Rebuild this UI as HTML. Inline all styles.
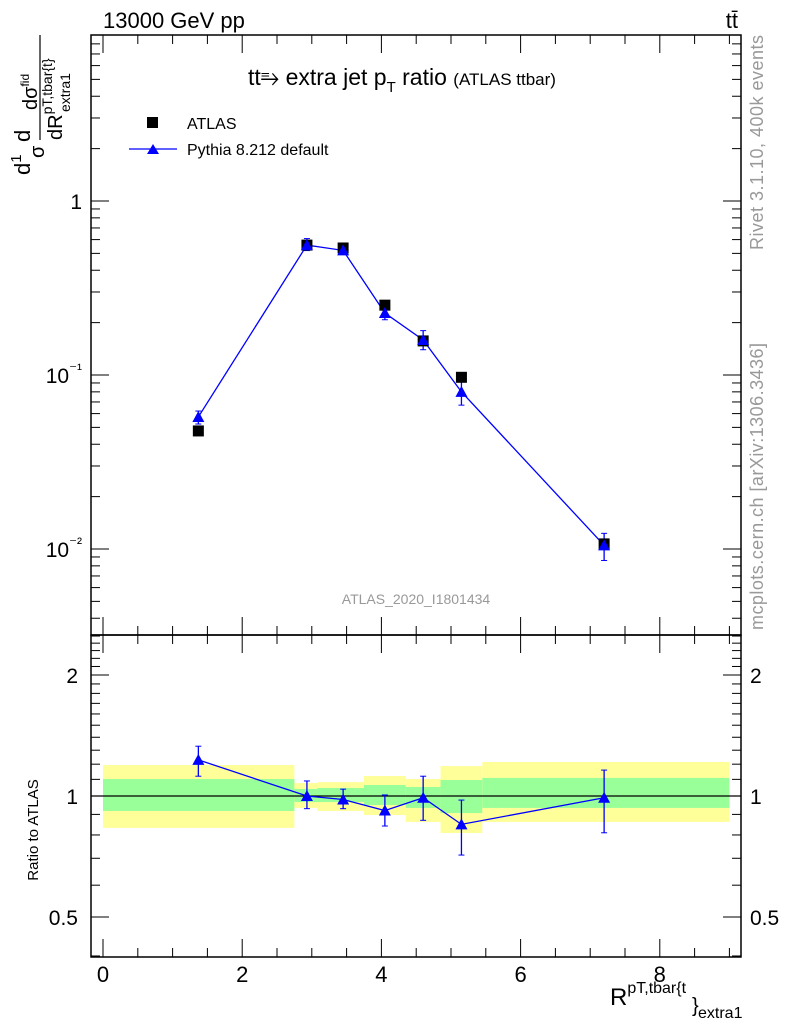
<!DOCTYPE html>
<html><head><meta charset="utf-8"><style>
body{margin:0;background:#fff;}
svg{font-family:"Liberation Sans",sans-serif;display:block;}
</style></head><body>
<svg id="chart" width="786" height="1024" viewBox="0 0 786 1024" xmlns="http://www.w3.org/2000/svg">
<text x="103" y="28" font-size="22">13000 GeV pp</text>
<text x="738" y="28" font-size="22" text-anchor="end">tt̄</text>
<text x="248" y="85" font-size="23">tt⥱ extra jet p<tspan font-size="15" dy="7">T</tspan><tspan dy="-7"> ratio </tspan><tspan font-size="17">(ATLAS ttbar)</tspan></text>
<text transform="translate(763,250) rotate(-90)" font-size="18" fill="#999" textLength="215">Rivet 3.1.10,  400k events</text>
<text transform="translate(763,630) rotate(-90)" font-size="18" fill="#999" textLength="287">mcplots.cern.ch [arXiv:1306.3436]</text>
<text x="416" y="604" font-size="14" fill="#999" text-anchor="middle">ATLAS_2020_I1801434</text>
<g>
<text transform="translate(30,175) rotate(-90)" font-size="22">d<tspan font-size="15" dy="-9">1</tspan></text>
<text transform="translate(30,142) rotate(-90)" font-size="22">d</text>
<text transform="translate(44,158) rotate(-90)" font-size="20">σ</text>
<text transform="translate(37,110) rotate(-90)" font-size="20">dσ<tspan font-size="12" dy="-8">fid</tspan></text>
<line x1="40" y1="140" x2="40" y2="35" stroke="#000" stroke-width="1.2"/>
<text transform="translate(62,140) rotate(-90)" font-size="20">dR<tspan font-size="14" dy="-10">pT,tbar{t}</tspan></text>
<text transform="translate(70,112) rotate(-90)" font-size="14">extra1</text>
</g>
<text transform="translate(38,830) rotate(-90)" font-size="15" text-anchor="middle">Ratio to ATLAS</text>
<g>
<text x="610" y="1005" font-size="24">R<tspan font-size="16" dy="-12">pT,tbar{t</tspan></text>
<text x="692" y="1012" font-size="20">}</text>
<text x="698" y="1018" font-size="16">extra1</text>
</g>
<g id="legend">
<rect x="147" y="117" width="11" height="11" fill="#000"/>
<text x="187" y="129" font-size="16">ATLAS</text>
<line x1="129" y1="149" x2="177" y2="149" stroke="#00f" stroke-width="1.3"/>
<polygon points="147,154 159,154 153,144" fill="#00f"/>
<text x="187" y="155" font-size="16">Pythia 8.212 default</text>
</g>
<g id="bands"></g>
<g id="axes"></g>
<g id="marks"></g>
</svg>
<script>
const xCenters=[1.37,2.93,3.45,4.05,4.6,5.15,7.2];
const atlasVals=[0.0477,0.558,0.537,0.252,0.157,0.097,0.0107];
const pythiaVals=[0.0574,0.558,0.52,0.227,0.159,0.080,0.0105];
const ratioVals=[1.23,1.0,0.98,0.92,0.99,0.85,0.99];
const ratioErrHi=[1.33,1.09,1.04,1.006,1.12,0.977,1.16];
const ratioErrLo=[1.12,0.93,0.93,0.842,0.87,0.713,0.81];
const binEdges=[0,2.75,3.08,3.75,4.35,4.85,5.45,9.0];
const yellowHi=[1.194,1.077,1.083,1.121,1.102,1.187,1.215];
const yellowLo=[0.833,0.934,0.918,0.897,0.862,0.809,0.862];
const greenHi=[1.102,1.041,1.047,1.065,1.053,1.096,1.109];
const greenLo=[0.918,0.966,0.966,0.950,0.934,0.907,0.934];
const xTicks=[0,2,4,6,8];
const mainTickLabels=["1","10⁻¹","10⁻²"];
const mainTickVals=[1,0.1,0.01];
const ratioTickVals=[0.5,1,2];

const NS="http://www.w3.org/2000/svg";
const L=91,R=741,T1=35,B1=635,T2=635,B2=957;
const X=v=>103+v*69.6;
const Y1=v=>201-Math.log10(v)*174;
const Y2=v=>796-Math.log10(v)*402;
function mk(tag,attrs,parent){const e=document.createElementNS(NS,tag);for(const k in attrs)e.setAttribute(k,attrs[k]);parent.appendChild(e);return e;}
const bands=document.getElementById('bands'),axes=document.getElementById('axes'),marks=document.getElementById('marks');

for(let i=0;i<binEdges.length-1;i++){
 const x0=X(binEdges[i]),x1=X(binEdges[i+1]);
 const y=mk('rect',{x:x0,y:Y2(yellowHi[i]),width:x1-x0,height:Y2(yellowLo[i])-Y2(yellowHi[i]),fill:'#ffff99'},bands);
 
 
 const g=mk('rect',{x:x0,y:Y2(greenHi[i]),width:x1-x0,height:Y2(greenLo[i])-Y2(greenHi[i]),fill:'#99ff99'},bands);
 
 
}
for(const [t,b,n] of [[T1,B1,'main-frame'],[T2,B2,'ratio-frame']]){
 const f=mk('rect',{x:L,y:t,width:R-L,height:b-t,fill:'none',stroke:'#000','stroke-width':1.5},axes);
 
 
}
const ref=mk('line',{x1:L,x2:R,y1:Y2(1),y2:Y2(1),stroke:'#000','stroke-width':1.2},axes);


for(let v=0;v<=9.01;v+=0.5){
 const major=Math.abs(v-Math.round(v/2)*2)<1e-6;
 const len=major?18:9;
 for(const [t,b] of [[T1,B1],[T2,B2]]){
  mk('line',{x1:X(v),x2:X(v),y1:b,y2:b-len,stroke:'#000'},axes);
  mk('line',{x1:X(v),x2:X(v),y1:t,y2:t+len,stroke:'#000'},axes);
 }
}
xTicks.forEach(v=>{const t=mk('text',{x:X(v),y:982,'font-size':22,'text-anchor':'middle'},axes);t.textContent=v;
 
 });
for(let d=-3;d<=0;d++)for(let m=1;m<=9;m++){
 const v=m*Math.pow(10,d);const y=Y1(v);if(y<T1||y>B1)continue;
 const len=m==1?18:9;
 mk('line',{x1:L,x2:L+len,y1:y,y2:y,stroke:'#000'},axes);
 mk('line',{x1:R,x2:R-len,y1:y,y2:y,stroke:'#000'},axes);
}
mainTickVals.forEach((v,i)=>{const t=mk('text',{x:82,y:Y1(v)+8,'font-size':21,'text-anchor':'end'},axes);
 const s=mainTickLabels[i];
 if(s.length>1){t.textContent='10';const sp=mk('tspan',{'font-size':15,dy:-9},t);sp.textContent=s.slice(2);}else t.textContent=s;
 
 });
for(let v=0.4;v<=2.55;v+=0.1){const y=Y2(v);if(y<T2||y>B2)continue;
 const maj=[0.5,1,2].some(a=>Math.abs(a-v)<1e-6);const len=maj?18:9;
 mk('line',{x1:L,x2:L+len,y1:y,y2:y,stroke:'#000'},axes);
 mk('line',{x1:R,x2:R-len,y1:y,y2:y,stroke:'#000'},axes);}
ratioTickVals.forEach(v=>{
 const a=mk('text',{x:78,y:Y2(v)+8,'font-size':21,'text-anchor':'end'},axes);a.textContent=v;
 
 
 const b=mk('text',{x:750,y:Y2(v)+8,'font-size':21},axes);b.textContent=v;
 
 });
function tri(x,y,p,name){const e=mk('polygon',{points:`${x-6},${y+5} ${x+6},${y+5} ${x},${y-6}`,fill:'#00f'},p);
 
 }
const pl=mk('polyline',{points:xCenters.map((x,i)=>X(x)+','+Y1(pythiaVals[i])).join(' '),fill:'none',stroke:'#00f','stroke-width':1.3},marks);


xCenters.forEach((x,i)=>{
 const hi=pythiaVals[i]*ratioErrHi[i]/ratioVals[i],lo=pythiaVals[i]*ratioErrLo[i]/ratioVals[i];
 mk('line',{x1:X(x),x2:X(x),y1:Y1(hi),y2:Y1(lo),stroke:'#00f','stroke-width':1.3},marks);
 mk('line',{x1:X(x)-3,x2:X(x)+3,y1:Y1(hi),y2:Y1(hi),stroke:'#00f'},marks);
 mk('line',{x1:X(x)-3,x2:X(x)+3,y1:Y1(lo),y2:Y1(lo),stroke:'#00f'},marks);
 const r=mk('rect',{x:X(x)-5.5,y:Y1(atlasVals[i])-5.5,width:11,height:11,fill:'#000'},marks);
 
 
 tri(X(x),Y1(pythiaVals[i]),marks,'pythia-point');
});
const rl=mk('polyline',{points:xCenters.map((x,i)=>X(x)+','+Y2(ratioVals[i])).join(' '),fill:'none',stroke:'#00f','stroke-width':1.3},marks);


xCenters.forEach((x,i)=>{
 mk('line',{x1:X(x),x2:X(x),y1:Y2(ratioErrHi[i]),y2:Y2(ratioErrLo[i]),stroke:'#00f','stroke-width':1.3},marks);
 mk('line',{x1:X(x)-3,x2:X(x)+3,y1:Y2(ratioErrHi[i]),y2:Y2(ratioErrHi[i]),stroke:'#00f'},marks);
 mk('line',{x1:X(x)-3,x2:X(x)+3,y1:Y2(ratioErrLo[i]),y2:Y2(ratioErrLo[i]),stroke:'#00f'},marks);
 tri(X(x),Y2(ratioVals[i]),marks,'ratio-point');
});
</script>
</body></html>
